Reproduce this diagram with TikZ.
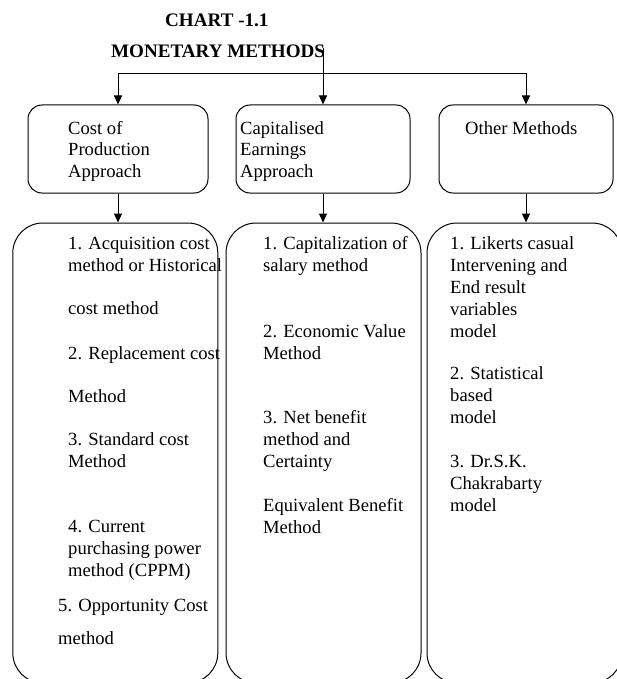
\documentclass[tikz,border=0pt]{standalone}
\usepackage{fontspec}
\setmainfont{Liberation Serif}
\usetikzlibrary{arrows.meta}
\tikzset{
  conn/.style={line width=1pt,-{Triangle[length=9pt,width=8pt]}},
  topbox/.style={draw,line width=1pt,rounded corners=14pt,inner sep=0pt},
  lowbox/.style={draw,line width=1pt,rounded corners=30pt,inner sep=0pt},
  txt/.style={anchor=north west,inner sep=0pt,align=left,font=\fontsize{18.6}{22}\selectfont},
  toptxt/.style={anchor=north west,inner sep=0pt,align=left,font=\fontsize{18.6}{21.5}\selectfont},
  ttl/.style={anchor=base west,inner sep=0pt,font=\fontsize{19.1}{22}\selectfont\bfseries}
}
\begin{document}
\begin{tikzpicture}[x=1pt,y=-1pt]
\clip (0,0) rectangle (617,679);
% titles
\node[ttl] (t1) at (165,26.7) {CHART -1.1};
\node[ttl] (t2) at (111,58) {MONETARY METHODS};
% top boxes
\node[topbox,minimum width=180pt,minimum height=88pt] (tb1) at (118,149) {};
\node[topbox,minimum width=174pt,minimum height=88pt] (tb2) at (323,149) {};
\node[topbox,minimum width=174pt,minimum height=88pt] (tb3) at (526,149) {};
\node[toptxt] (tt1) at (68,119) {\strut Cost of\\Production\\Approach};
\node[toptxt] (tt2) at (240,119) {\strut Capitalised\\Earnings\\Approach};
\node[toptxt] (tt3) at (465,119) {\strut Other Methods};
% lower boxes
\node[lowbox,minimum width=205pt,minimum height=460pt] (lb1) at (115.3,453) {};
\node[lowbox,minimum width=195pt,minimum height=460pt] (lb2) at (323.5,453) {};
\node[lowbox,minimum width=195pt,minimum height=460pt] (lb3) at (524.5,453) {};
% connectors
\coordinate (ms) at (323,48);
\coordinate (hub) at (323,74);
\draw[conn] (ms) -- (tb2.north);
\draw[conn] (hub) -| (tb1.north);
\draw[conn] (hub) -| (tb3.north);
\draw[conn] (tb1.south) -- (tb1.south |- lb1.north);
\draw[conn] (tb2.south) -- (tb2.south |- lb2.north);
\draw[conn] (tb3.south) -- (tb3.south |- lb3.north);
% column 1 items
\node[txt] (a1) at (68,233.6) {\strut 1. Acquisition cost\\method or Historical\\[21pt]cost method};
\node[txt] (a2) at (68,343.6) {\strut 2. Replacement cost\\[21pt]Method};
\node[txt] (a3) at (68,429.6) {\strut 3. Standard cost\\Method};
\node[txt] (a4) at (68,516.6) {\strut 4. Current\\purchasing power\\method (CPPM)};
\node[txt] (a5) at (58,595.6) {\strut 5. Opportunity Cost\\[11pt]method};
% column 2 items
\node[txt] (b1) at (263,233.6) {\strut 1. Capitalization of\\salary method};
\node[txt] (b2) at (263,321.6) {\strut 2. Economic Value\\Method};
\node[txt] (b3) at (263,407.6) {\strut 3. Net benefit\\method and\\Certainty\\[22pt]Equivalent Benefit\\Method};
% column 3 items
\node[txt] (c1) at (450,233.6) {\strut 1. Likerts casual\\Intervening and\\End result\\variables\\model};
\node[txt] (c2) at (450,363.6) {\strut 2. Statistical\\based\\model};
\node[txt] (c3) at (450,451.6) {\strut 3. Dr.S.K.\\Chakrabarty\\model};
\end{tikzpicture}
\end{document}
